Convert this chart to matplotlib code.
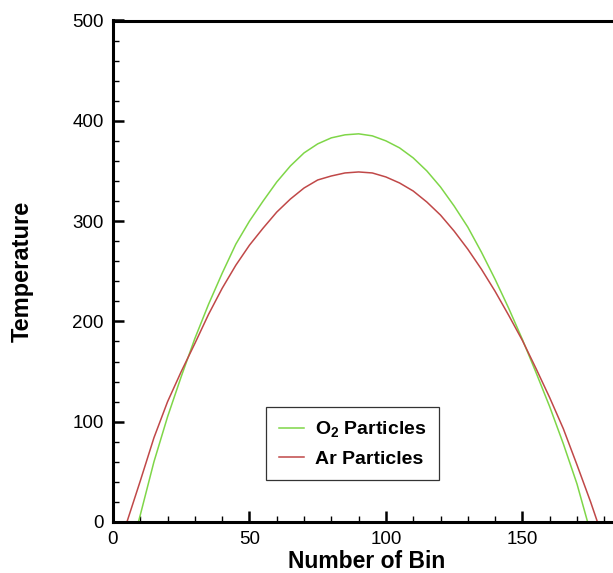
import matplotlib
matplotlib.use("Agg")
import matplotlib.pyplot as plt
from matplotlib.ticker import MultipleLocator

plt.rcParams["font.family"] = ["Liberation Sans", "DejaVu Sans"]
plt.rcParams["mathtext.fontset"] = "custom"
plt.rcParams["mathtext.rm"] = "Liberation Sans:bold"
plt.rcParams["mathtext.it"] = "Liberation Sans:bold"
plt.rcParams["mathtext.bf"] = "Liberation Sans:bold"
plt.rcParams["mathtext.default"] = "rm"

# Temperature profile across bins for each species
bins_o2 = [9.3, 10, 15, 20, 25, 30, 35, 40, 45, 50, 55, 60, 65, 70, 75, 80, 85,
           90, 95, 100, 105, 110, 115, 120, 125, 130, 135, 140, 145, 150, 155,
           160, 165, 170, 173.9]
temp_o2 = [0, 7, 60, 105, 145, 183, 217, 248, 277, 300, 320, 339, 355, 368,
           377, 383, 386, 387, 385, 380, 373, 363, 350, 334, 315, 294, 269, 242,
           213, 182, 149, 115, 78, 38, 0]

bins_ar = [5.1, 10, 15, 20, 25, 30, 35, 40, 45, 50, 55, 60, 65, 70, 75, 80, 85,
           90, 95, 100, 105, 110, 115, 120, 125, 130, 135, 140, 145, 150, 155,
           160, 165, 170, 175, 177.5]
temp_ar = [0, 41, 84, 120, 150, 178, 207, 233, 256, 276, 293, 309, 322, 333,
           341, 345, 348, 349, 348, 344, 338, 330, 319, 306, 290, 272, 252, 230,
           206, 181, 153, 124, 93, 57, 20, 0]

series_labels = ["O$_2$ Particles", "Ar Particles"]
series_colors = ["#7fd648", "#c04848"]

x_range = (0, 183.2)
y_range = (0, 500)

fig = plt.figure(figsize=(6.13, 5.73), dpi=100)
ax = fig.add_axes([113 / 613, 51 / 573, 500 / 613, 501.5 / 573])

ax.plot(bins_o2, temp_o2, color=series_colors[0], lw=1.1, label=series_labels[0])
ax.plot(bins_ar, temp_ar, color=series_colors[1], lw=1.1, label=series_labels[1])

ax.set_xlim(*x_range)
ax.set_ylim(*y_range)

ax.xaxis.set_major_locator(MultipleLocator(50))
ax.xaxis.set_minor_locator(MultipleLocator(10))
ax.yaxis.set_major_locator(MultipleLocator(100))
ax.yaxis.set_minor_locator(MultipleLocator(20))

for side in ["left", "bottom", "top"]:
    ax.spines[side].set_linewidth(2.2)
    ax.spines[side].set_color("black")
ax.spines["right"].set_visible(False)

ax.tick_params(which="major", direction="in", length=8, width=1.8,
               labelsize=13.5, pad=6.5, top=False, right=False)
ax.tick_params(which="minor", direction="in", length=4.5, width=1.0,
               top=False, right=False)

ax.set_xlabel("Number of Bin", fontsize=16.5, fontweight="bold")
ax.set_ylabel("Temperature", fontsize=17, fontweight="bold")
ax.xaxis.set_label_coords(0.507, -0.056)
ax.yaxis.set_label_coords(-0.158, 0.5)

leg = ax.legend(loc="upper left",
                bbox_to_anchor=(266 / 613, 1 - 406.7 / 573),
                bbox_transform=fig.transFigure,
                prop={"weight": "bold", "size": 14},
                frameon=True, fancybox=False, framealpha=1.0,
                edgecolor="#333333", borderaxespad=0, borderpad=0.65,
                handlelength=1.3, handletextpad=0.55, labelspacing=0.55)
leg.get_frame().set_linewidth(0.9)

fig.savefig("out.png", dpi=100)
